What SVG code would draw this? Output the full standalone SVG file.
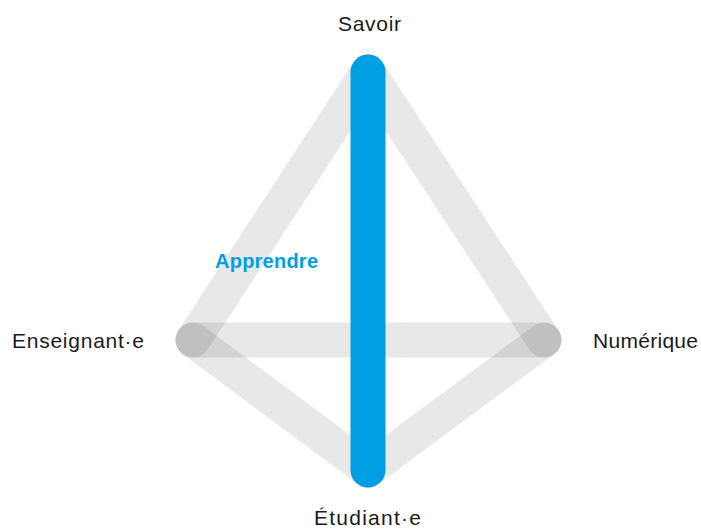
<svg xmlns="http://www.w3.org/2000/svg" width="701" height="529" viewBox="0 0 701 529">
<style>
.edge{fill:none;stroke:#000;stroke-opacity:0.09;stroke-width:35;stroke-linecap:round}
.axis{fill:none;stroke:#009fe3;stroke-width:35;stroke-linecap:round}
.lbl{font-family:"Liberation Sans",Arial,sans-serif;font-size:21px;fill:#1a1a1a}
.hl{font-family:"Liberation Sans",Arial,sans-serif;font-size:20px;font-weight:bold;fill:#009fe3}
</style>
<rect width="701" height="529" fill="#fff"/>
<g id="connectors">
<line class="edge" x1="368" y1="72" x2="193" y2="340"/>
<line class="edge" x1="368" y1="72" x2="544" y2="340"/>
<line class="edge" x1="193" y1="340" x2="368" y2="470"/>
<line class="edge" x1="544" y1="340" x2="368" y2="470"/>
<line class="edge" x1="193" y1="340" x2="544" y2="340"/>
<line class="axis" x1="368" y1="72" x2="368" y2="470"/>
<text class="hl" x="215" y="268" textLength="103" lengthAdjust="spacing">Apprendre</text>
</g>
<g id="savoir"><text class="lbl" x="338" y="31" textLength="63" lengthAdjust="spacing">Savoir</text></g>
<g id="enseignant"><text class="lbl" x="12" y="348" textLength="132" lengthAdjust="spacing">Enseignant·e</text></g>
<g id="numerique"><text class="lbl" x="593" y="348" textLength="105" lengthAdjust="spacing">Numérique</text></g>
<g id="etudiant"><text class="lbl" x="314" y="525" textLength="107" lengthAdjust="spacing">Étudiant·e</text></g>
</svg>
